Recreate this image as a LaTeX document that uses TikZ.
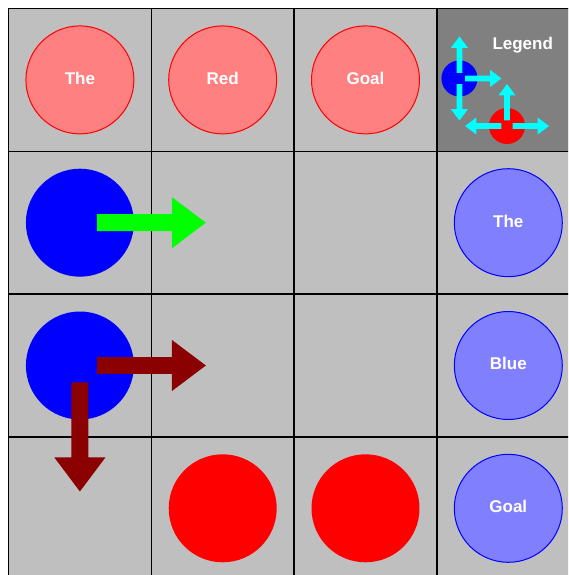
\documentclass[tikz,border=0pt]{standalone}
\usepackage{fontspec}
\setmainfont{Liberation Sans}
\definecolor{cellgray}{RGB}{191,191,191}
\definecolor{legendgray}{RGB}{128,128,128}
\definecolor{palered}{RGB}{255,128,128}
\definecolor{paleblue}{RGB}{128,128,255}
\definecolor{darkred}{RGB}{139,0,0}
\definecolor{aqua}{RGB}{0,255,255}
\definecolor{brightgreen}{RGB}{0,255,0}
\definecolor{purered}{RGB}{255,0,0}
\definecolor{pureblue}{RGB}{0,0,255}
\tikzset{
  gridline/.style={black, line width=1.5pt},
  goaltext/.style={text=white, font=\bfseries\fontsize{17}{20}\selectfont, text height=12.2pt, text depth=3.4pt},
  goalred/.style={circle, minimum size=108pt, inner sep=0pt, fill=palered, draw=purered, line width=1pt, goaltext},
  goalblue/.style={circle, minimum size=108pt, inner sep=0pt, fill=paleblue, draw=pureblue, line width=1pt, goaltext},
  agent/.style={circle, minimum size=108pt, inner sep=0pt},
  miniagent/.style={circle, minimum size=36pt, inner sep=0pt},
  moveArrow/.pic={
    \fill[pic actions] (0.119,-0.0595) -- (0.644,-0.0595) -- (0.644,-0.179) -- (0.882,0)
      -- (0.644,0.179) -- (0.644,0.0595) -- (0.119,0.0595) -- cycle;
  }
}
\begin{document}
\begin{tikzpicture}[x=1pt,y=-1pt]
\useasboundingbox (0,0) rectangle (568,575);
\fill[white] (0,0) rectangle (568,575);
\begin{scope}
\clip (0,0) rectangle (568,575);
\begin{scope}[shift={(8.5,8.5)}, x=142.8pt, y=-142.8pt]
  \fill[cellgray] (0,0) rectangle (4,4);
  \fill[legendgray] (3,0) rectangle (4,1);
  \foreach \i in {0,...,4} {
    \draw[gridline] (\i,0) -- (\i,4);
    \draw[gridline] (0,\i) -- (4,\i);
  }
  % goal circles
  \node[goalred] (rg1) at (0.5,0.5) {The};
  \node[goalred] (rg2) at (1.5,0.5) {Red};
  \node[goalred] (rg3) at (2.5,0.5) {Goal};
  \node[goalblue] (bg1) at (3.5,1.5) {The};
  \node[goalblue] (bg2) at (3.5,2.5) {Blue};
  \node[goalblue] (bg3) at (3.5,3.5) {Goal};
  % agents
  \node[agent, fill=pureblue] (b1) at (0.5,1.5) {};
  \node[agent, fill=pureblue] (b2) at (0.5,2.5) {};
  \node[agent, fill=purered] (r1) at (1.5,3.5) {};
  \node[agent, fill=purered] (r2) at (2.5,3.5) {};
  % arrows
  \pic[fill=brightgreen] (a1) at (b1.center) {moveArrow};
  \pic[fill=darkred] (a2) at (b2.center) {moveArrow};
  \pic[fill=darkred, rotate=-90] (a3) at (b2.center) {moveArrow};
  % legend
  \node[text=white, font=\bfseries\fontsize{17}{20}\selectfont, anchor=base] (leg) at (3.601,0.2857) {Legend};
  \node[miniagent, fill=pureblue] (lb) at (3.158,0.490) {};
  \node[miniagent, fill=purered] (lr) at (3.491,0.823) {};
  \pic[fill=aqua, scale=0.3333, rotate=90] (l1) at (lb.center) {moveArrow};
  \pic[fill=aqua, scale=0.3333] (l2) at (lb.center) {moveArrow};
  \pic[fill=aqua, scale=0.3333, rotate=-90] (l3) at (lb.center) {moveArrow};
  \pic[fill=aqua, scale=0.3333, rotate=90] (l4) at (lr.center) {moveArrow};
  \pic[fill=aqua, scale=0.3333, rotate=180] (l5) at (lr.center) {moveArrow};
  \pic[fill=aqua, scale=0.3333] (l6) at (lr.center) {moveArrow};
\end{scope}
\end{scope}
\end{tikzpicture}
\end{document}
